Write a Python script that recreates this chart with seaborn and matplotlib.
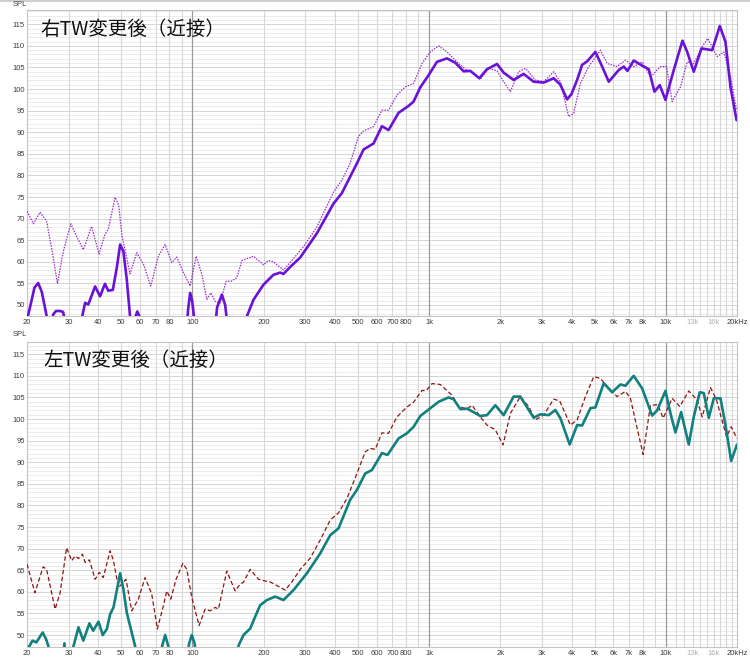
import matplotlib
matplotlib.use("Agg")
import matplotlib.pyplot as plt
import seaborn as sns
from matplotlib.lines import Line2D

# ---------------- data (frequency in Hz, SPL in dB) ----------------
rt_ref_freq = [20, 21.3, 22.7, 24.2, 25.4, 26.9, 28.5, 30.6, 32.4, 34.6, 37.5, 40.3, 42.7, 44.1, 47.1, 48.8, 50.3,
               54.5, 58.2, 62.1, 66.7, 71.8, 76.7, 81.8, 85.9, 91.6, 97.8, 103.7, 109.6, 115.1, 119.6, 124.8, 131,
               138.8, 145.7, 154.1, 161.8, 181.1, 199.6, 209.6, 220, 242.5, 264, 294.6, 335.7, 394.8, 428, 464, 503,
               528.5, 582.6, 632, 674, 731.7, 793, 860, 933, 1012, 1097, 1190, 1312, 1423, 1519, 1646, 1785, 1937,
               2065, 2205, 2390, 2552, 2812, 3049, 3360, 3587, 3889, 4083, 4359, 4725, 5296, 5654, 6232, 6756, 7322,
               7946, 8614, 9496, 10070, 10643, 11540, 12320, 13130, 14250, 15050, 16490, 17590, 18770, 19910]
rt_ref_spl = [71.7, 68.8, 71.5, 69.4, 63.2, 55.0, 62.5, 68.8, 65.9, 62.8, 68.2, 61.8, 66.3, 67.5, 74.9, 73.2, 66.3,
              57.2, 62.1, 59.4, 54.4, 61.3, 64.0, 59.8, 61.1, 57.5, 54.4, 61.3, 57.1, 51.3, 52.8, 50.8, 50.5,
              55.5, 55.5, 56.3, 60.3, 61.3, 59.3, 60.3, 60.0, 58.1, 60.4, 63.5, 68.1, 76.2, 78.9, 82.8, 89.0,
              90.3, 91.3, 95.1, 95.1, 98.6, 100.5, 101.3, 105.9, 108.6, 110.0, 108.6, 106.3, 104.6, 104.0, 102.2,
              104.8, 104.2, 101.7, 99.4, 104.0, 104.8, 102.1, 101.7, 104.0, 101.7, 93.6, 94.4, 101.3, 105.2, 109.0,
              105.9, 105.2, 106.7, 105.2, 106.3, 102.8, 105.2, 105.2, 97.1, 100.5, 106.3, 105.9, 109.8, 111.7,
              107.5, 108.6, 103.0, 95.1]

rt_freq = [20, 20.8, 21.5, 22.3, 23.1, 23.8, 24.4, 25.0, 25.8, 26.5, 27.6, 28.4, 28.9, 30.4, 33.5, 34.2, 35.2, 36.3,
           38.8, 40.7, 42.7, 44.1, 46.1, 47.9, 49.5, 51.1, 52.8, 54.5, 56.1, 57.2, 58.5, 60.1, 61.9, 80.5, 94, 95.9,
           97.8, 99.7, 102.7, 113.2, 123.6, 127.2, 133.2, 137.5, 141.6, 159.2, 169.9, 181.1, 199.6, 220, 234.9,
           242.5, 258.9, 285.4, 335.7, 394.8, 428, 464, 495.6, 528.5, 582.6, 632, 674, 743, 819, 860, 918, 995,
           1080, 1190, 1290, 1399, 1494, 1630, 1757, 1937, 2065, 2277, 2509, 2766, 3049, 3360, 3587, 3829, 3993,
           4221, 4431, 4652, 5044, 5385, 5743, 6329, 6645, 6889, 7322, 8071, 8477, 8958, 9432, 9970, 10810, 11765,
           12320, 13130, 14150, 15710, 16920, 17880, 18770, 19910]
rt_spl = [46.5, 50.5, 54.0, 55.1, 53.0, 49.5, 46.5, 42, 47.8, 48.6, 48.6, 48.4, 46.5, 40, 40, 47.3, 50.5, 50.1,
          54.3, 52.0, 54.9, 53.3, 53.5, 58.6, 64.0, 62.4, 55.9, 47.4, 42, 47.0, 48.5, 47.0, 42, 40, 42, 49,
          52.8, 51, 45, 40, 43, 49.5, 52.4, 50, 44, 40, 47.4, 51.2, 54.7, 57.0, 57.5,
          57.2, 58.8, 61.0, 66.6, 73.5, 75.9, 79.7, 82.8, 86.0, 87.4, 91.4, 90.5, 94.5, 96.1, 97.1, 100.4, 103.2,
          106.3, 107.1, 106.1, 104.1, 104.2, 102.5, 104.6, 105.8, 103.8, 102.1, 103.5, 101.7, 101.5, 102.5, 101.0,
          97.6, 98.8, 102.1, 105.6, 106.4, 108.6, 105.2, 101.7, 104.4, 105.2, 104.2, 106.6, 105.2, 104.6, 99.4,
          100.9, 97.5, 104.4, 111.2, 108.6, 104.0, 109.4, 109.0, 114.6, 110.9, 100.5, 92.8]

lt_ref_freq = [20, 21.6, 23.4, 24.2, 26.3, 27.6, 29.4, 30.9, 31.9, 33.0, 34.3, 35.2, 36.7, 38.8, 40.4, 42.0, 44.9,
               46.4, 48.7, 51.1, 52.4, 55.4, 59.1, 63.1, 67.3, 71.1, 75.4, 77.9, 81.0, 85.3, 91.1, 94.7, 99.4, 106.7,
               113.2, 118.8, 124.8, 128.8, 139.7, 151.5, 159.1, 164.3, 175.4, 190.2, 203.0, 213.1, 246.6, 263.3,
               285.4, 314.6, 346.7, 382.1, 414.4, 449.7, 495.6, 537.3, 564.1, 592.2, 632, 674, 731.7, 806.5, 860,
               933, 973.4, 1029, 1116, 1250, 1333, 1447, 1519, 1646, 1757, 1905, 2054, 2205, 2430, 2634, 2812, 3049,
               3360, 3562, 3954, 4221, 4577, 4961, 5296, 5743, 6232, 6756, 7091, 7517, 8024, 8614, 9250, 9750,
               10643, 11460, 12510, 13570, 14250, 15450, 16390, 18060, 18900, 20000]
lt_ref_spl = [66.4, 59.8, 65.8, 65.2, 56.0, 59.8, 70.2, 67.2, 68.3, 67.7, 68.7, 66.8, 67.4, 62.9, 64.5, 63.3, 69.5,
              67.2, 61.0, 62.2, 62.9, 55.6, 58.3, 63.3, 59.5, 51.4, 56.8, 60.2, 58.3, 62.9, 66.6, 65.2, 58.7, 52.2,
              56.0, 55.6, 56.4, 56.0, 64.8, 60.2, 61.8, 62.2, 65.2, 62.9, 62.5, 62.3, 60.4, 62.3,
              65.2, 67.8, 72.0, 76.6, 78.3, 81.6, 87.4, 92.4, 93.2, 93.0, 96.8, 96.7, 100.5, 102.8, 103.9,
              106.6, 106.6, 108.2, 108.0, 105.5, 102.9, 102.3, 103.2, 100.5, 98.6, 97.5, 94.0, 101.3, 105.2, 102.9,
              99.8, 100.9, 104.6, 104.2, 98.6, 99.8, 105.2, 109.8, 109.4, 107.1, 105.2, 106.4, 104.8, 98.6, 91.8,
              103.2, 103.3, 100.2, 104.8, 102.9, 106.5, 104.4, 100.5, 107.3, 104.4, 95.9, 98.2, 95.5]

lt_freq = [20, 21.1, 21.9, 23.3, 24.1, 24.6, 25.5, 28.1, 28.8, 29.2, 31.4, 33.0, 34.6, 36.7, 38.1, 40.1, 41.8, 43.5,
           44.9, 46.4, 49.5, 51.1, 52.8, 55.4, 57.2, 60.1, 73.0, 74.5, 76.7, 79.0, 82.5, 94, 96.8, 99.4, 102.2,
           104.8, 151.5, 156.5, 164.3, 175.4, 187.3, 193.3, 206.3, 223.7, 242.5, 267.3, 304.6, 346.7, 382.1, 414.4,
           464, 495.6, 537.3, 573.5, 632, 667.5, 743, 806.5, 860, 918, 1012, 1097, 1209, 1269, 1355, 1447, 1542,
           1646, 1757, 1905, 2065, 2277, 2430, 2766, 2952, 3201, 3416, 3587, 3927, 4221, 4431, 4805, 5044, 5470,
           5936, 6435, 6756, 7322, 7946, 8759, 9195, 9970, 10470, 10990, 11610, 12510, 13130, 13920, 14480, 15200,
           15960, 17030, 17880, 18900, 20000]
lt_spl = [46.5, 48.7, 48.3, 50.6, 49.0, 47.5, 42, 42, 48.1, 42, 47.3, 51.8, 48.7, 52.7, 51.0, 53.1, 50.0, 51.4,
          54.8, 56.4, 64.3, 60.6, 55.2, 50.6, 47.5, 42, 42, 47.5, 50.0, 47.5, 42, 42, 48, 50.0, 48,
          42, 42, 47.5, 50.0, 51.5, 55.2, 56.9, 58.1, 58.9, 58.1, 60.4, 64.3, 68.9, 73.1, 74.7,
          81.3, 83.6, 87.4, 88.2, 92.1, 91.7, 95.5, 96.7, 98.2, 100.7, 102.5, 104.0, 105.0, 104.6, 102.3, 102.4,
          101.6, 100.7, 100.9, 103.2, 100.9, 105.2, 105.2, 100.3, 101.1, 100.9, 102.1, 100.2, 94.1, 98.6, 98.5,
          102.5, 102.7, 108.3, 106.2, 108.0, 107.7, 110.0, 107.1, 100.8, 102.0, 106.5, 101.3, 96.9, 101.6, 94.1,
          100.5, 106.2, 106.0, 100.3, 104.8, 104.8, 98.6, 90.3, 94.1]

x_tick_values = [20, 30, 40, 50, 60, 70, 80, 100, 200, 300, 400, 500, 600, 700, 800, 1000, 2000, 3000, 4000,
                 5000, 6000, 7000, 8000, 10000, 13000, 16000, 20000]
x_tick_labels = ["20", "30", "40", "50", "60", "70", "80", "100", "200", "300", "400", "500", "600", "700",
                 "800", "1k", "2k", "3k", "4k", "5k", "6k", "7k", "8k", "10k", "13k", "16k", "20kHz"]
y_tick_values = list(range(50, 116, 5))
titles = ["右TW変更後（近接）", "左TW変更後（近接）"]

# ---------------- style ----------------
sns.set_theme(style="white")
plt.rcParams["font.family"] = ["Liberation Sans", "DejaVu Sans"]

W, H = 750, 661
fig = plt.figure(figsize=(W / 100, H / 100), dpi=100)
fig.patch.set_facecolor("white")


def ax_rect(left, top, right, bottom):
    return [left / W, 1 - bottom / H, (right - left) / W, (bottom - top) / H]


ax1 = fig.add_axes(ax_rect(27, 10, 737, 316))
ax2 = fig.add_axes(ax_rect(27, 341.7, 737, 646.7))

minor_freqs = ([f for f in range(30, 100, 10)] + [f for f in range(200, 1000, 100)] +
               [f for f in range(2000, 10000, 1000)] + [f for f in range(11000, 20000, 1000)])
decade_freqs = [100, 1000, 10000]


def style_axes(ax, ylim):
    ax.set_xscale("log")
    ax.set_xlim(20, 20000)
    ax.set_ylim(*ylim)
    ax.set_facecolor("white")
    for db in range(48, 119):
        major = db % 5 == 0
        ax.axhline(db, color="#d4d4d4" if major else "#e9e9e9", lw=0.7 if major else 0.6, zorder=0)
    for f in minor_freqs:
        ax.axvline(f, color="#d8d8d8", lw=0.8, zorder=0)
    for f in decade_freqs:
        ax.axvline(f, color="#9a9a9a", lw=0.9, zorder=0)
    ax.set_xticks(x_tick_values)
    ax.set_xticklabels(x_tick_labels)
    ax.minorticks_off()
    ax.set_yticks(y_tick_values)
    ax.set_yticklabels([str(v) for v in y_tick_values])
    ax.tick_params(axis="both", length=0, labelsize=5.5, colors="#3c3c3c")
    ax.tick_params(axis="x", pad=2.5)
    ax.tick_params(axis="y", pad=1.5)
    for lbl in ax.get_xticklabels():
        if lbl.get_text() in ("13k", "16k"):
            lbl.set_color("#b0b0b0")
    for s in ax.spines.values():
        s.set_color("#c4c4c4")
        s.set_linewidth(0.8)
    ax.set_xlabel("")
    ax.set_ylabel("")


line_kw = dict(sort=False, estimator=None, solid_joinstyle="round", solid_capstyle="round")

# top panel
sns.lineplot(x=rt_ref_freq, y=rt_ref_spl, ax=ax1, color="#9c2ccc", linewidth=0.9,
             linestyle=(0, (1.2, 1.0)), zorder=3, **line_kw)
sns.lineplot(x=rt_freq, y=rt_spl, ax=ax1, color="#6a12d6", linewidth=1.9, zorder=4, **line_kw)
style_axes(ax1, (47.45, 118.3))

# bottom panel
sns.lineplot(x=lt_ref_freq, y=lt_ref_spl, ax=ax2, color="#8e1414", linewidth=0.9,
             linestyle=(0, (3.5, 2.0)), zorder=3, **line_kw)
sns.lineplot(x=lt_freq, y=lt_spl, ax=ax2, color="#11807e", linewidth=1.9, zorder=4, **line_kw)
style_axes(ax2, (47.3, 117.9))

# titles
fig.text(40 / W, 1 - 29 / H, titles[0], fontsize=14, va="center", ha="left", color="#111111",
         family=["Noto Sans CJK JP", "DejaVu Sans"])
fig.text(43 / W, 1 - 360 / H, titles[1], fontsize=14, va="center", ha="left", color="#111111",
         family=["Noto Sans CJK JP", "DejaVu Sans"])

# SPL labels
fig.text(13 / W, 1 - 5 / H, "SPL", fontsize=5.5, va="center", ha="left", color="#3c3c3c")
fig.text(13 / W, 1 - 335 / H, "SPL", fontsize=5.5, va="center", ha="left", color="#3c3c3c")

# top border line of the screenshot
fig.add_artist(Line2D([0, 1], [1 - 0.8 / H, 1 - 0.8 / H], color="#cfcfcf", lw=1.5))

fig.savefig("out.png", dpi=100, facecolor="white")
